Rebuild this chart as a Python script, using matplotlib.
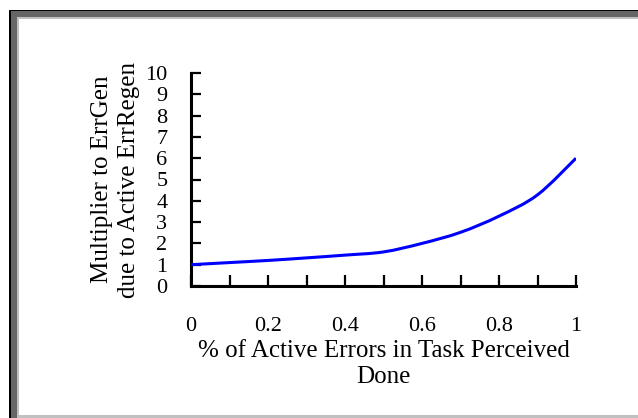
import matplotlib
matplotlib.use("Agg")
import matplotlib.pyplot as plt
from matplotlib.patches import Rectangle, PathPatch
from matplotlib.path import Path
from matplotlib.ticker import MultipleLocator

# 数据
x_vals = [0.0, 0.1, 0.2, 0.3, 0.4, 0.5, 0.6, 0.7, 0.8, 0.9, 1.0]
y_vals = [1.0, 1.1, 1.2, 1.32, 1.45, 1.6, 2.0, 2.52, 3.28, 4.28, 6.0]
x_ticks = [0, 0.2, 0.4, 0.6, 0.8, 1]
x_tick_labels = ["0", "0.2", "0.4", "0.6", "0.8", "1"]
y_ticks = list(range(0, 11))

plt.rcParams['font.family'] = ['Liberation Serif', 'DejaVu Serif']

W, H = 638, 418
fig = plt.figure(figsize=(W / 100, H / 100), dpi=100)
fig.patch.set_facecolor('white')


def px_rect(x0, y0, x1, y1, color):
    # 像素坐标(左上原点) -> figure 坐标
    fig.add_artist(Rectangle((x0 / W, 1 - y1 / H), (x1 - x0) / W, (y1 - y0) / H,
                             transform=fig.transFigure, facecolor=color,
                             edgecolor='none', zorder=0))


def smooth_path(xs, ys, t=1 / 6):
    # 类似 Excel 平滑线: Catmull-Rom 转 Bezier
    verts = [(xs[0], ys[0])]
    codes = [Path.MOVETO]
    n = len(xs)
    for i in range(n - 1):
        x0, y0 = xs[max(i - 1, 0)], ys[max(i - 1, 0)]
        x1, y1 = xs[i], ys[i]
        x2, y2 = xs[i + 1], ys[i + 1]
        x3, y3 = xs[min(i + 2, n - 1)], ys[min(i + 2, n - 1)]
        c1 = (x1 + (x2 - x0) * t, y1 + (y2 - y0) * t)
        c2 = (x2 - (x3 - x1) * t, y2 - (y3 - y1) * t)
        verts += [c1, c2, (x2, y2)]
        codes += [Path.CURVE4] * 3
    return Path(verts, codes)


# 外框
px_rect(9, 10, W, H, 'black')
px_rect(11, 11, W, H, '#666666')
px_rect(17, 17, W, H, '#c0c0c0')
px_rect(19, 19, W, 415, 'white')

ax = fig.add_axes([191 / W, 1 - 286 / H, (576 - 191) / W, (286 - 73) / H])
ax.set_facecolor('none')
ax.add_patch(PathPatch(smooth_path(x_vals, y_vals), facecolor='none',
                       edgecolor='#0000ff', linewidth=2.2, zorder=3))

ax.set_xlim(0, 1)
ax.set_ylim(0, 10)
ax.set_xticks(x_ticks)
ax.set_xticklabels(x_tick_labels)
ax.xaxis.set_minor_locator(MultipleLocator(0.1))
ax.set_yticks(y_ticks)

for s in ['top', 'right']:
    ax.spines[s].set_visible(False)
for s in ['left', 'bottom']:
    ax.spines[s].set_linewidth(2.2)
    ax.spines[s].set_capstyle('projecting')

ax.tick_params(axis='x', which='both', direction='in', length=8, width=1.6,
               pad=22, labelsize=16)
ax.tick_params(axis='y', which='major', direction='in', length=7, width=1.6,
               pad=17, labelsize=16)

ax.set_xlabel("% of Active Errors in Task Perceived\nDone", fontsize=18,
              labelpad=3, linespacing=1.25)
ax.set_ylabel("Multiplier to ErrGen\ndue to Active ErrRegen", fontsize=18,
              labelpad=4, linespacing=1.25)

fig.savefig("out.png", dpi=100)
